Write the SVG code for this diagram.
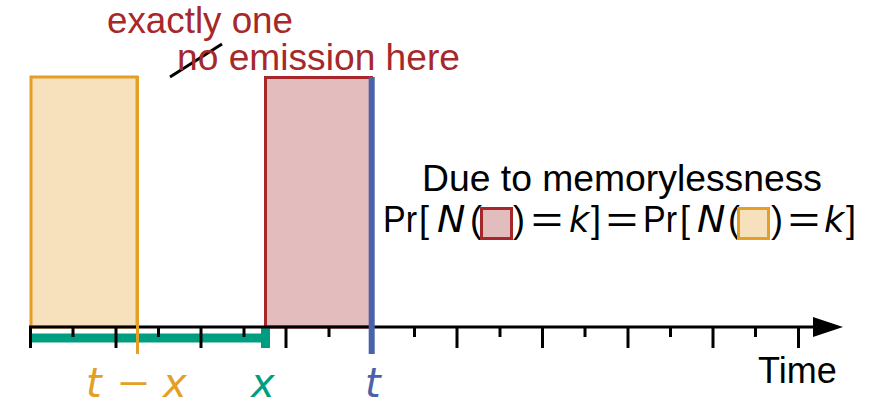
<svg xmlns="http://www.w3.org/2000/svg" width="879" height="406" viewBox="0 0 879 406">
<style>
.sans{font-family:"Liberation Sans",Arial,sans-serif}
.red{fill:#A6282A}
.math{font-family:"DejaVu Sans","Liberation Sans",sans-serif;font-style:italic}
.maj{stroke:#000;stroke-width:3}
.min{stroke:#000;stroke-width:3}
</style>
<defs>
<marker id="ah" viewBox="0 0 30 20" refX="0" refY="10" markerWidth="30" markerHeight="20" markerUnits="userSpaceOnUse" orient="auto">
<path d="M0,0 L30,10 L0,20 Z" fill="#000"/>
</marker>
</defs>
<rect width="879" height="406" fill="#fff"/>

<g id="orange-interval">
<rect x="31" y="77" width="106" height="250" fill="#F6E1BC" stroke="#E3A024" stroke-width="3"/>
</g>
<g id="red-interval">
<rect x="265.5" y="77.5" width="106" height="249.5" fill="#E3BCBE" stroke="#A6282A" stroke-width="3"/>
</g>

<g id="green-bar">
<line x1="30" y1="338" x2="266" y2="338" stroke="#009E80" stroke-width="9"/>
<line x1="265.5" y1="328" x2="265.5" y2="348" stroke="#009E80" stroke-width="9"/>
</g>

<g id="connectors">
<line x1="29" y1="327" x2="813" y2="327" stroke="#000" stroke-width="3" marker-end="url(#ah)"/>
<g class="ticks">
<line class="maj" x1="30.5" y1="327" x2="30.5" y2="348"/>
<line class="maj" x1="116" y1="327" x2="116" y2="348"/>
<line class="maj" x1="201" y1="327" x2="201" y2="348"/>
<line class="maj" x1="286" y1="327" x2="286" y2="348"/>
<line class="maj" x1="371.5" y1="327" x2="371.5" y2="348"/>
<line class="maj" x1="457" y1="327" x2="457" y2="348"/>
<line class="maj" x1="542.5" y1="327" x2="542.5" y2="348"/>
<line class="maj" x1="628" y1="327" x2="628" y2="348"/>
<line class="maj" x1="713" y1="327" x2="713" y2="348"/>
<line class="maj" x1="798.5" y1="327" x2="798.5" y2="348"/>
<line class="min" x1="73" y1="327" x2="73" y2="337"/>
<line class="min" x1="158.5" y1="327" x2="158.5" y2="337"/>
<line class="min" x1="244" y1="327" x2="244" y2="337"/>
<line class="min" x1="329" y1="327" x2="329" y2="337"/>
<line class="min" x1="414.5" y1="327" x2="414.5" y2="337"/>
<line class="min" x1="500" y1="327" x2="500" y2="337"/>
<line class="min" x1="585" y1="327" x2="585" y2="337"/>
<line class="min" x1="670.5" y1="327" x2="670.5" y2="337"/>
<line class="min" x1="755.5" y1="327" x2="755.5" y2="337"/>
</g>
<line x1="137.5" y1="76" x2="137.5" y2="354" stroke="#E3A024" stroke-width="3"/>
<line x1="371.7" y1="77" x2="371.7" y2="354" stroke="#4A62AA" stroke-width="6"/>
<line x1="170" y1="77" x2="222" y2="44" stroke="#000" stroke-width="3"/>
</g>

<g id="labels-top">
<text class="sans red" x="107" y="33" font-size="37" textLength="186" lengthAdjust="spacingAndGlyphs">exactly one</text>
<text class="sans red" x="177" y="70" font-size="37" textLength="283" lengthAdjust="spacingAndGlyphs">no emission here</text>
</g>

<g id="note">
<text class="sans" x="422" y="191" font-size="36" textLength="400" lengthAdjust="spacingAndGlyphs">Due to memorylessness</text>
<g class="sans" font-size="36">
<text x="383" y="232" textLength="34" lengthAdjust="spacingAndGlyphs">Pr</text>
<text x="419" y="232">[</text>
<text class="math" x="437" y="232" font-size="38">N</text>
<text x="470" y="232">(</text>
<rect x="481.5" y="208.5" width="30" height="30" fill="#E3BCBE" stroke="#A6282A" stroke-width="3"/>
<text x="513" y="232">)</text>
<text x="531" y="232" textLength="32" lengthAdjust="spacingAndGlyphs">=</text>
<text class="math" x="569" y="232" font-size="35">k</text>
<text x="591" y="232">]</text>
<text x="606" y="232" textLength="32" lengthAdjust="spacingAndGlyphs">=</text>
<text x="643" y="232" textLength="34" lengthAdjust="spacingAndGlyphs">Pr</text>
<text x="680" y="232">[</text>
<text class="math" x="697" y="232" font-size="38">N</text>
<text x="728" y="232">(</text>
<rect x="738.5" y="208.5" width="30" height="30" fill="#F6E1BC" stroke="#E3A024" stroke-width="3"/>
<text x="771" y="232">)</text>
<text x="788" y="232" textLength="32" lengthAdjust="spacingAndGlyphs">=</text>
<text class="math" x="824" y="232" font-size="35">k</text>
<text x="846" y="232">]</text>
</g>
</g>

<g id="axis-labels">
<text class="sans" x="758" y="383" font-size="36">Time</text>
<text class="math" x="86" y="397" font-size="40" fill="#E3A024">t</text>
<text class="sans" x="118" y="397" font-size="40" fill="#E3A024" textLength="31" lengthAdjust="spacingAndGlyphs">−</text>
<text class="math" x="163" y="397" font-size="40" fill="#E3A024">x</text>
<text class="math" x="251" y="397" font-size="40" fill="#009E80">x</text>
<text class="math" x="365" y="397" font-size="40" fill="#4A62AA">t</text>
</g>
</svg>
